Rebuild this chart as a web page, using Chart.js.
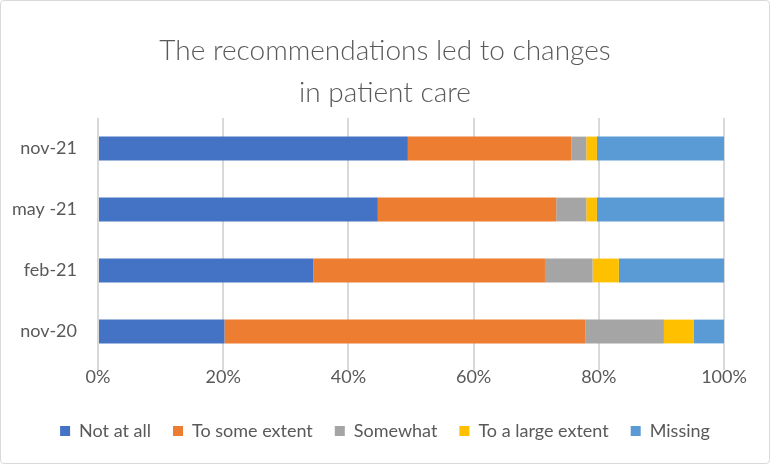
<!DOCTYPE html>
<html>
<head>
<meta charset="utf-8">
<script src="https://cdn.jsdelivr.net/npm/chart.js@4"></script>
<style>
  html, body { margin: 0; padding: 0; background: #fff; }
  #wrap {
    width: 770px; height: 464px; box-sizing: border-box;
    border: 1px solid #d9d9d9; border-radius: 4px; position: relative;
  }
</style>
</head>
<body>
<div id="wrap"><canvas id="chart"></canvas></div>
<script>
// Survey rounds (top to bottom)
const rounds = ['nov-21', 'may -21', 'feb-21', 'nov-20'];

// Share of answers per round, in percent
const notAtAll = [49.5, 44.7, 34.4, 20.2];
const toSomeExtent = [26.1, 28.5, 37.0, 57.7];
const somewhat = [2.4, 4.8, 7.6, 12.5];
const toALargeExtent = [1.7, 1.7, 4.2, 4.8];
const missing = [20.3, 20.3, 16.8, 4.8];

const textColor = '#595959';
const fontFamily = "Lato, 'Open Sans', sans-serif";

const ctx = document.getElementById('chart').getContext('2d');

new Chart(ctx, {
    type: 'bar',
    data: {
        labels: rounds,
        datasets: [
            { label: 'Not at all', data: notAtAll, backgroundColor: '#4472C4' },
            { label: 'To some extent', data: toSomeExtent, backgroundColor: '#ED7D31' },
            { label: 'Somewhat', data: somewhat, backgroundColor: '#A5A5A5' },
            { label: 'To a large extent', data: toALargeExtent, backgroundColor: '#FFC000' },
            { label: 'Missing', data: missing, backgroundColor: '#5B9BD5' }
        ]
    },
    options: {
        indexAxis: 'y',
        responsive: true,
        maintainAspectRatio: false,
        animation: false,
        layout: { padding: { left: 0, right: 0, top: 0, bottom: 13 } },
        datasets: {
            bar: { categoryPercentage: 1, barPercentage: 0.39, borderWidth: 0 }
        },
        scales: {
            x: {
                stacked: true,
                min: 0,
                max: 100,
                ticks: {
                    stepSize: 20,
                    color: textColor,
                    padding: -4,
                    font: { size: 18, family: fontFamily },
                    callback: v => v + '%'
                },
                grid: { color: '#d9d9d9', lineWidth: 2, drawTicks: true, tickLength: 8 },
                border: { display: false },
                afterFit: scale => { scale.height = 38; }
            },
            y: {
                stacked: true,
                ticks: {
                    color: textColor,
                    padding: 13,
                    font: { size: 18, family: fontFamily }
                },
                grid: { display: false },
                border: { display: false },
                afterFit: scale => { scale.width = 97; }
            },
            // empty axis on the right: only reserves the margin after 100%
            spacer: {
                type: 'linear',
                position: 'right',
                display: true,
                grid: { display: false },
                ticks: { display: false },
                border: { display: false },
                afterFit: scale => { scale.width = 45; }
            }
        },
        plugins: {
            title: {
                display: true,
                text: ['The recommendations led to changes', 'in patient care'],
                color: textColor,
                font: { size: 28, family: fontFamily, weight: 300, lineHeight: 1.5 },
                padding: { top: 29, bottom: 4 }
            },
            legend: {
                position: 'bottom',
                labels: {
                    color: textColor,
                    font: { size: 18, family: fontFamily },
                    boxWidth: 10,
                    boxHeight: 10,
                    padding: 22
                }
            },
            tooltip: { enabled: false }
        }
    }
});
</script>
</body>
</html>
